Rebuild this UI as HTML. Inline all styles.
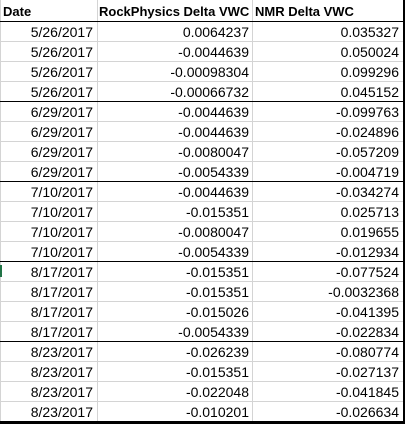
<!DOCTYPE html>
<html><head><style>
body{margin:0;width:408px;height:424px;background:#fff;overflow:hidden;font-family:"Liberation Sans",sans-serif;font-size:14px;color:#000;position:relative}
.c{position:absolute;height:20px;line-height:21px;white-space:nowrap;box-sizing:border-box}
.h{font-weight:bold;font-size:13px}
.r{text-align:right;padding-right:3px}
.hl{position:absolute;left:0;width:405px;height:1px;background:#d4d4d4}
.vl{position:absolute;top:0;width:1px;height:422px;background:#d4d4d4}
</style></head><body>
<div id="grid"></div>
<script>
const dates=["5/26/2017","5/26/2017","5/26/2017","5/26/2017","6/29/2017","6/29/2017","6/29/2017","6/29/2017","7/10/2017","7/10/2017","7/10/2017","7/10/2017","8/17/2017","8/17/2017","8/17/2017","8/17/2017","8/23/2017","8/23/2017","8/23/2017","8/23/2017"];
const rock=["0.0064237","-0.0044639","-0.00098304","-0.00066732","-0.0044639","-0.0044639","-0.0080047","-0.0054339","-0.0044639","-0.015351","-0.0080047","-0.0054339","-0.015351","-0.015351","-0.015026","-0.0054339","-0.026239","-0.015351","-0.022048","-0.010201"];
const nmr=["0.035327","0.050024","0.099296","0.045152","-0.099763","-0.024896","-0.057209","-0.004719","-0.034274","0.025713","0.019655","-0.012934","-0.077524","-0.0032368","-0.041395","-0.022834","-0.080774","-0.027137","-0.041845","-0.026634"];
const g=document.getElementById('grid');
function add(cls,x,y,w,txt,name){const d=document.createElement('div');d.className=cls;d.style.left=x+'px';d.style.top=y+'px';d.style.width=w+'px';d.textContent=txt;


g.appendChild(d);}
function line(cls,x,y,w,h,col,name){const d=document.createElement('div');d.className=cls;if(x!=null)d.style.left=x+'px';d.style.top=y+'px';if(w!=null)d.style.width=w+'px';if(h!=null)d.style.height=h+'px';if(col)d.style.background=col;


g.appendChild(d);}
line('vl',0,0,null,null,null,'col-border-left');
line('vl',97,0,null,null,null,'col-border-date');
line('vl',252,0,null,null,null,'col-border-rock');
for(let i=1;i<=20;i++){const y=21+i*20;line('hl',null,y,null,null,(i%4==0&&i<20)?'#000':null,'row-border');}
line('hl',null,21,null,null,'#000','header-border');
line('hl',null,421,null,3,'#000','bottom-border');
line('vl',403,0,2,424,'#000','right-border');
line('vl',0,265,2,12,'#217346','active-row-marker');
add('c h',3,1,94,'Date','header-date');
add('c h',99,1,153,'RockPhysics Delta VWC','header-rockphysics');
add('c h',255,1,148,'NMR Delta VWC','header-nmr');
for(let i=0;i<20;i++){const y=22+i*20;
add('c r',0,y,96,dates[i],'date-cell');
add('c r',98,y,154,rock[i],'rockphysics-cell');
add('c r',253,y,149,nmr[i],'nmr-cell');}
</script>
</body></html>
